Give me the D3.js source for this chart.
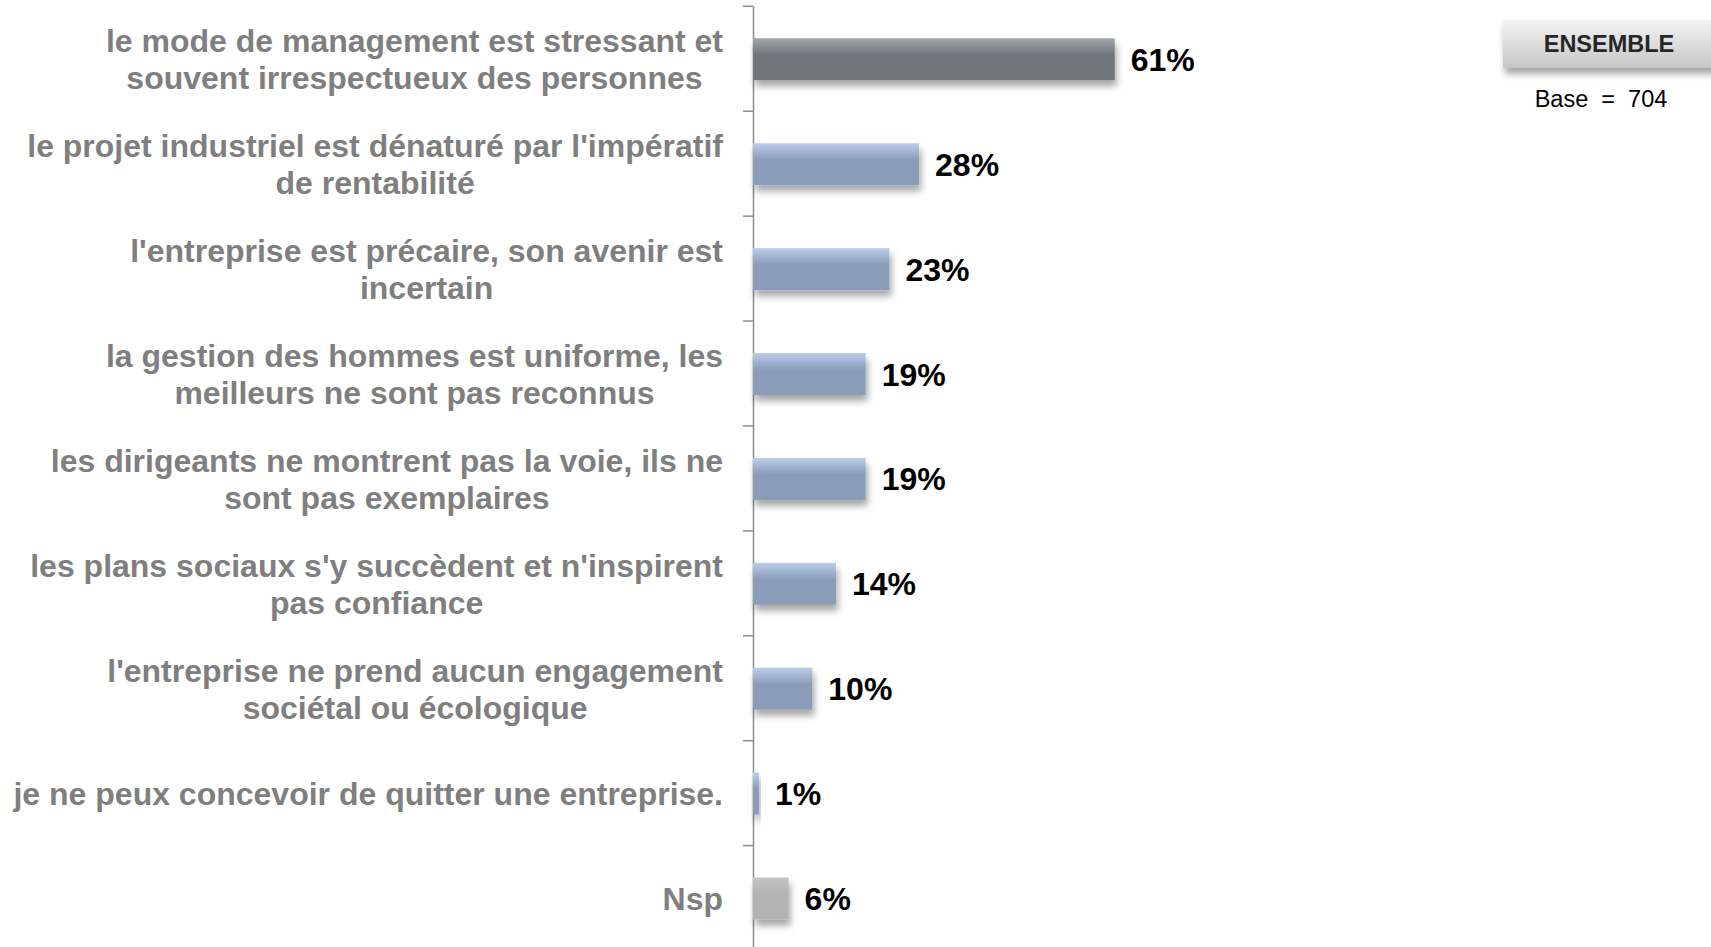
<!DOCTYPE html>
<html>
<head>
<meta charset="utf-8">
<script src="https://cdn.jsdelivr.net/npm/d3@7"></script>
<style>
  body { margin: 0; background: #fff; }
  text { font-family: "Liberation Sans", Arial, sans-serif; }
</style>
</head>
<body>
<svg></svg>
<script>
const categories = [
  "le mode de management est stressant et\nsouvent irrespectueux des personnes",
  "le projet industriel est dénaturé par l'impératif\nde rentabilité",
  "l'entreprise est précaire, son avenir est\nincertain",
  "la gestion des hommes est uniforme, les\nmeilleurs ne sont pas reconnus",
  "les dirigeants ne montrent pas la voie, ils ne\nsont pas exemplaires",
  "les plans sociaux s'y succèdent et n'inspirent\npas confiance",
  "l'entreprise ne prend aucun engagement\nsociétal ou écologique",
  "je ne peux concevoir de quitter une entreprise.",
  "Nsp"
]
const values = [61, 28, 23, 19, 19, 14, 10, 1, 6]
const legendTitle = "ENSEMBLE"
const baseText = "Base  =  704"

const width = 1711
const height = 947
const axisX = 753
const labelRight = 723

const svg = d3.select("svg")
  .attr("width", width)
  .attr("height", height)

const defs = svg.append("defs")

const gradients = [
  { id: "g-main", top: "#a3a7ad", base: "#6f747c" },
  { id: "g-blue", top: "#bccdea", base: "#8a9cb8" },
  { id: "g-nsp", top: "#c4c4c4", base: "#b3b3b3" },
  { id: "g-legend", top: "#f4f4f4", base: "#c6c6c6" }
]
gradients.forEach(g => {
  const lg = defs.append("linearGradient")
    .attr("id", g.id)
    .attr("x1", 0).attr("y1", 0).attr("x2", 0).attr("y2", 1)
  lg.append("stop").attr("offset", "0%").attr("stop-color", g.top)
  lg.append("stop").attr("offset", g.id === "g-legend" ? "100%" : "40%").attr("stop-color", g.base)
})

const shadow = defs.append("filter")
  .attr("id", "shadow")
  .attr("x", "-20%").attr("y", "-30%")
  .attr("width", "150%").attr("height", "180%")
shadow.append("feDropShadow")
  .attr("dx", 2).attr("dy", 6)
  .attr("stdDeviation", 3.5)
  .attr("flood-color", "#000")
  .attr("flood-opacity", 0.35)

const xScale = d3.scaleLinear()
  .domain([0, 100])
  .range([axisX, axisX + 593])

const yScale = d3.scaleBand()
  .domain(categories)
  .range([6.8, 951])
  .paddingInner(0.6)
  .paddingOuter(0.3)

const tickScale = d3.scaleLinear()
  .domain([0, categories.length])
  .range([5.8, 950])

const axis = d3.axisLeft(tickScale)
  .tickValues(d3.range(0, categories.length + 1))
  .tickFormat("")
  .tickSize(10)
  .tickSizeOuter(0)

svg.append("g")
  .attr("transform", `translate(${axisX}, 0)`)
  .call(axis)
  .call(g => g.selectAll("path, line").attr("stroke", "#8c8c8c").attr("stroke-width", 1.5))

const fillFor = (d, i) => {
  if (i === 0) return "url(#g-main)"
  if (d === "Nsp") return "url(#g-nsp)"
  return "url(#g-blue)"
}

const bars = svg.append("g").attr("class", "bars")

bars.selectAll("rect")
  .data(categories)
  .join("rect")
  .attr("x", xScale(0))
  .attr("y", d => yScale(d))
  .attr("width", (d, i) => xScale(values[i]) - xScale(0))
  .attr("height", yScale.bandwidth())
  .attr("fill", fillFor)
  .attr("filter", "url(#shadow)")

bars.selectAll("text")
  .data(categories)
  .join("text")
  .attr("x", (d, i) => xScale(values[i]) + 16)
  .attr("y", d => yScale(d) + yScale.bandwidth() / 2)
  .attr("dy", "0.36em")
  .attr("font-size", 32)
  .attr("font-weight", "bold")
  .attr("fill", "#000")
  .text((d, i) => values[i] + "%")

const labels = svg.append("g").attr("class", "labels")
const lineHeight = 37

categories.forEach(cat => {
  const lines = cat.split("\n")
  const cy = yScale(cat) + yScale.bandwidth() / 2
  const g = labels.append("g")
  const texts = g.selectAll("text")
    .data(lines)
    .join("text")
    .attr("y", (d, i) => cy + (i - (lines.length - 1) / 2) * lineHeight)
    .attr("dy", "0.36em")
    .attr("font-size", 32)
    .attr("font-weight", "bold")
    .attr("fill", "#7f7f7f")
    .attr("text-anchor", "middle")
    .text(d => d)
  let maxW = 0
  texts.each(function() { maxW = Math.max(maxW, this.getComputedTextLength()) })
  texts.attr("x", labelRight - maxW / 2)
})

const legend = svg.append("g").attr("class", "legend")
legend.append("rect")
  .attr("x", 1503)
  .attr("y", 20)
  .attr("width", 220)
  .attr("height", 48)
  .attr("fill", "url(#g-legend)")
  .attr("filter", "url(#shadow)")
legend.append("text")
  .attr("x", 1609)
  .attr("y", 44)
  .attr("dy", "0.36em")
  .attr("text-anchor", "middle")
  .attr("font-size", 23.5)
  .attr("font-weight", "bold")
  .attr("fill", "#262626")
  .text(legendTitle)
legend.append("text")
  .attr("x", 1601)
  .attr("y", 99)
  .attr("dy", "0.36em")
  .attr("text-anchor", "middle")
  .attr("font-size", 23.5)
  .attr("fill", "#000")
  .style("white-space", "pre")
  .text(baseText)
</script>
</body>
</html>
